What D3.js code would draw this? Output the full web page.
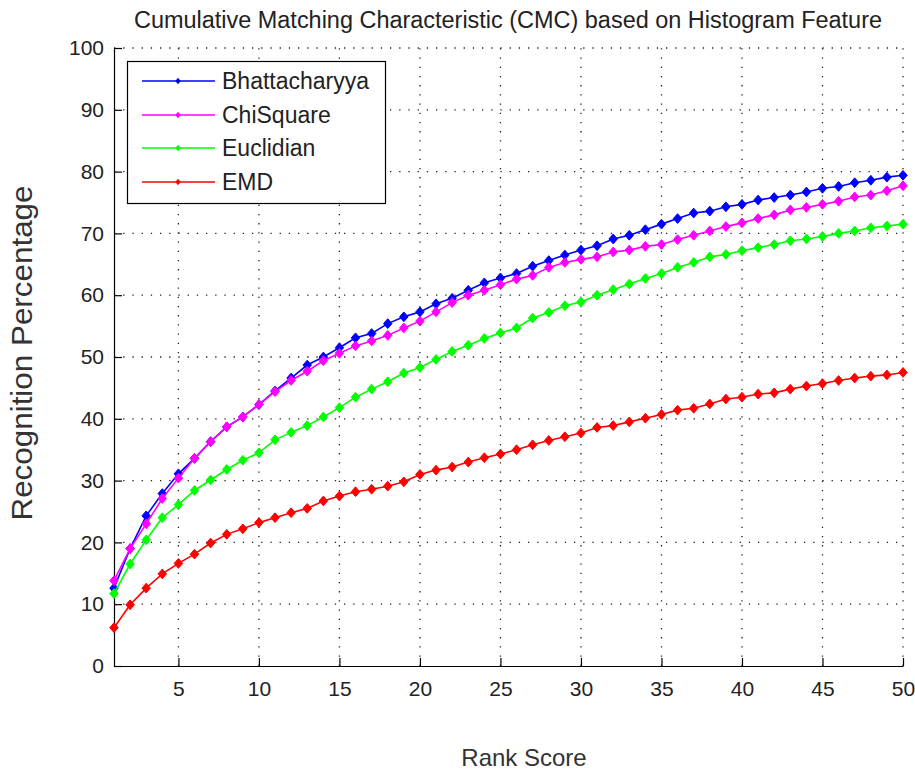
<!DOCTYPE html>
<html>
<head>
<meta charset="utf-8">
<script src="https://cdn.jsdelivr.net/npm/d3@7"></script>
<style>
  html, body { margin: 0; padding: 0; background: #fff; }
  svg { display: block; font-family: "Liberation Sans", Arial, Helvetica, sans-serif; }
</style>
</head>
<body>
<svg id="chart" width="915" height="772"></svg>
<script>
// Rank scores 1..50
const ranks = [1,2,3,4,5,6,7,8,9,10,11,12,13,14,15,16,17,18,19,20,21,22,23,24,25,
  26,27,28,29,30,31,32,33,34,35,36,37,38,39,40,41,42,43,44,45,46,47,48,49,50];

// Recognition percentage per rank for each distance measure
const bhattacharyya = [12.6,19.0,24.3,27.9,31.1,33.6,36.3,38.7,40.3,42.3,44.5,46.6,48.7,50.0,51.5,
  53.1,53.8,55.4,56.5,57.3,58.6,59.5,60.8,62.0,62.8,63.5,64.7,65.6,66.5,67.3,68.0,69.1,69.7,70.6,
  71.5,72.4,73.3,73.6,74.3,74.7,75.4,75.8,76.2,76.7,77.3,77.6,78.2,78.6,79.1,79.4];
const chiSquare = [13.8,19.0,23.0,27.1,30.4,33.6,36.3,38.7,40.3,42.3,44.4,46.2,47.7,49.4,50.6,
  51.8,52.6,53.5,54.7,55.8,57.3,58.8,60.0,60.8,61.7,62.6,63.2,64.5,65.3,65.8,66.2,67.0,67.3,67.9,
  68.2,69.0,69.7,70.4,71.1,71.7,72.4,73.0,73.8,74.2,74.7,75.2,75.9,76.2,76.9,77.7];
const euclidian = [11.7,16.5,20.4,24.0,26.1,28.4,30.1,31.8,33.3,34.5,36.6,37.8,38.9,40.3,41.8,
  43.5,44.8,46.0,47.4,48.3,49.6,50.9,51.9,53.0,53.9,54.7,56.3,57.2,58.3,58.9,60.0,60.9,61.8,62.7,
  63.5,64.5,65.3,66.2,66.6,67.2,67.7,68.2,68.8,69.1,69.5,70.0,70.4,70.9,71.2,71.5];
const emd = [6.2,9.9,12.6,14.9,16.6,18.1,19.9,21.3,22.2,23.2,24.0,24.8,25.5,26.7,27.5,
  28.2,28.6,29.1,29.8,31.0,31.7,32.2,33.0,33.7,34.3,35.0,35.8,36.5,37.1,37.7,38.6,38.9,39.5,40.1,
  40.7,41.4,41.7,42.4,43.2,43.5,44.0,44.2,44.8,45.3,45.7,46.2,46.6,46.9,47.1,47.5];

const seriesNames = ["Bhattacharyya", "ChiSquare", "Euclidian", "EMD"];
const seriesValues = [bhattacharyya, chiSquare, euclidian, emd];
const seriesColors = ["#0000ff", "#ff00ff", "#00ff00", "#ff0000"];

const xTicks = [5,10,15,20,25,30,35,40,45,50];
const yTicks = [0,10,20,30,40,50,60,70,80,90,100];

const titleText = "Cumulative Matching Characteristic (CMC) based on Histogram Feature";
const xLabel = "Rank Score";
const yLabel = "Recognition Percentage";

const svg = d3.select("#chart");
const plot = { left: 114, right: 903, top: 48, bottom: 666 };

const x = d3.scaleLinear().domain([1, 50]).range([plot.left, plot.right]);
const y = d3.scaleLinear().domain([0, 100]).range([plot.bottom, plot.top]);

// dotted grid
const grid = svg.append("g").attr("stroke", "#222").attr("stroke-width", 1.3)
  .attr("stroke-dasharray", "1.3,7.9").attr("fill", "none");
grid.selectAll("line.v").data(xTicks).join("line")
  .attr("x1", d => x(d)).attr("x2", d => x(d))
  .attr("y1", plot.bottom).attr("y2", plot.top);
grid.selectAll("line.h").data(yTicks.filter(d => d > 0)).join("line")
  .attr("x1", plot.left).attr("x2", plot.right)
  .attr("y1", d => y(d)).attr("y2", d => y(d));

// axes with inward ticks
const xAxis = d3.axisBottom(x).tickValues(xTicks).tickSizeInner(-8).tickSizeOuter(0).tickPadding(15);
const yAxis = d3.axisLeft(y).tickValues(yTicks).tickSizeInner(-8).tickSizeOuter(0).tickPadding(10);

const gx = svg.append("g").attr("transform", `translate(0,${plot.bottom})`).call(xAxis);
const gy = svg.append("g").attr("transform", `translate(${plot.left},0)`).call(yAxis);
[gx, gy].forEach(g => {
  g.selectAll("path, line").attr("stroke", "#000").attr("stroke-width", 1.2);
  g.selectAll("text").attr("fill", "#222").style("font-size", "21px");
});

// diamond marker
const diamond = {
  draw(ctx, size) {
    const w = Math.sqrt(size) / 2, h = w * 1.15;
    ctx.moveTo(0, -h); ctx.lineTo(w, 0); ctx.lineTo(0, h); ctx.lineTo(-w, 0); ctx.closePath();
  }
};
const marker = d3.symbol().type(diamond).size(72);

const line = d3.line().x((d, i) => x(ranks[i])).y(d => y(d));

seriesValues.forEach((vals, si) => {
  const g = svg.append("g");
  g.append("path").datum(vals).attr("d", line)
    .attr("fill", "none").attr("stroke", seriesColors[si]).attr("stroke-width", 1.6);
  g.selectAll("path.m").data(vals).join("path").attr("class", "m")
    .attr("transform", (d, i) => `translate(${x(ranks[i])},${y(d)})`)
    .attr("d", marker).attr("fill", seriesColors[si]).attr("stroke", seriesColors[si]).attr("stroke-width", 1);
});

// legend
const lg = svg.append("g");
lg.append("rect").attr("x", 127.5).attr("y", 61.5).attr("width", 258).attr("height", 142)
  .attr("fill", "#fff").attr("stroke", "#000").attr("stroke-width", 1.2);
const rowY = [81, 115, 148, 182];
seriesNames.forEach((name, i) => {
  lg.append("line").attr("x1", 142).attr("x2", 215).attr("y1", rowY[i]).attr("y2", rowY[i])
    .attr("stroke", seriesColors[i]).attr("stroke-width", 1.6);
  lg.append("path").attr("transform", `translate(178,${rowY[i]})`)
    .attr("d", d3.symbol().type(diamond).size(30)).attr("fill", seriesColors[i]);
  lg.append("text").attr("x", 222).attr("y", rowY[i] + 8).text(name)
    .attr("fill", "#222").style("font-size", "23px");
});

// title and axis labels
svg.append("text").attr("x", 508).attr("y", 28).attr("text-anchor", "middle")
  .style("font-size", "23.5px").attr("textLength", 748).attr("lengthAdjust", "spacingAndGlyphs")
  .attr("fill", "#222").text(titleText);
svg.append("text").attr("x", 524).attr("y", 766).attr("text-anchor", "middle")
  .style("font-size", "24px").attr("fill", "#333").text(xLabel);
svg.append("text").attr("transform", "translate(32,353) rotate(-90)").attr("text-anchor", "middle")
  .style("font-size", "30px").attr("textLength", 335).attr("lengthAdjust", "spacingAndGlyphs")
  .attr("fill", "#333").text(yLabel);
</script>
</body>
</html>
